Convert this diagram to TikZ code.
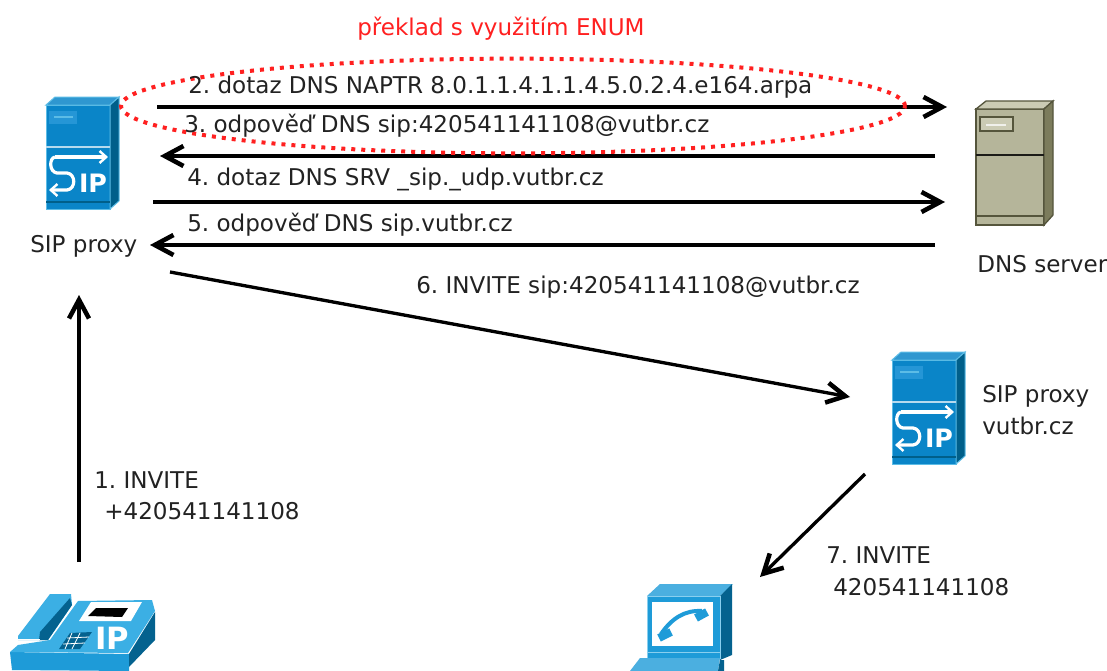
\documentclass[tikz,border=0pt]{standalone}
\usepackage{fontspec}
\setmainfont{DejaVu Sans}
\usetikzlibrary{arrows.meta,shapes.geometric}
\definecolor{sipfront}{HTML}{0A85C8}
\definecolor{sipside}{HTML}{005F8A}
\definecolor{sipedge}{HTML}{5CBCE6}
\definecolor{sippanel}{HTML}{2596D6}
\definecolor{phone}{HTML}{3BAFE4}
\definecolor{phonefront}{HTML}{1E9BD8}
\definecolor{phoneside}{HTML}{04628F}
\definecolor{srvfront}{HTML}{B5B59A}
\definecolor{srvtop}{HTML}{CBCBB4}
\definecolor{srvside}{HTML}{7C7C5C}
\definecolor{srvedge}{HTML}{55553C}
\definecolor{txt}{HTML}{222222}
\definecolor{enumred}{HTML}{FF2020}
\frenchspacing
\tikzset{
  flow/.style={line width=2.5pt,-{Straight Barb[length=14pt,width=15pt,line width=3.4pt]}},
  lbl/.style={anchor=base west,inner sep=0pt,font=\fontsize{17.3}{20}\selectfont,text=txt},
  sipicon/.pic={
    \fill[sipfront,draw=sipedge,line width=.75pt] (0,0) rectangle (64,104);
    \fill[sipfront!85!white,draw=sipedge,line width=.75pt] (0,0) -- (9,-8) -- (73,-8) -- (64,0) -- cycle;
    \fill[sipside,draw=sipedge,line width=.75pt] (64,0) -- (73,-8) -- (73,96) -- (64,104) -- cycle;
    \fill[sippanel] (3,6) rectangle (31,19);
    \draw[sipedge,line width=.9pt] (8,12) -- (27,12);
    \draw[white!70!sipfront,line width=.9pt] (0,42) -- (64,42);
    \draw[sipside,line width=1.3pt] (0,97) -- (64,97);
    \draw[white,line width=2.4pt,-{Straight Barb[length=5pt,width=9pt,line width=1.8pt]}]
      (9,52) .. controls (3,53) and (3,67) .. (11,68) -- (21,68)
      .. controls (30,69) and (30,84) .. (21,85) -- (3,85);
    \draw[white,line width=2.4pt,-{Straight Barb[length=5pt,width=9pt,line width=1.8pt]}]
      (9,52) -- (62,52);
    \node[inner sep=0pt,text=white,font=\bfseries\fontsize{19}{19}\selectfont] (ip) at (47,78) {IP};
  }
}
\begin{document}
\begin{tikzpicture}[x=0.75pt,y=-0.75pt]
\useasboundingbox (0,0) rectangle (1107,671);
\fill[white] (0,0) rectangle (1107,671);

% icons
\pic (proxyA) at (46,105) {sipicon};
\pic (proxyB) at (892,360) {sipicon};

% DNS server
\fill[srvfront,draw=srvedge,line width=1pt] (976,109) rectangle (1044,225);
\fill[srvtop,draw=srvedge,line width=1pt] (976,109) -- (986,101) -- (1053,101) -- (1044,109) -- cycle;
\fill[srvside,draw=srvedge,line width=1pt] (1044,109) -- (1053,101) -- (1053,215) -- (1044,225) -- cycle;
\fill[srvtop,draw=srvedge,line width=.8pt] (980,117) rectangle (1013,131);
\draw[white!80!srvfront,line width=1pt] (986,125) -- (1006,125);
\draw[black!85!srvfront,line width=1.4pt] (976,155) -- (1044,155);
\draw[srvedge,line width=1.2pt] (976,216) -- (1044,216);

% IP phone
\fill[phonefront] (10,652) -- (129,654) -- (129,671) -- (12,670) -- cycle;
\fill[phoneside] (129,654) -- (155,612) -- (155,640) -- (129,667) -- cycle;
\fill[phone] (78,601) -- (152,600) -- (155,611) -- (128,653) -- (10,652) -- (18,645) -- (50,640) -- cycle;
\fill[phone] (50,594) -- (71,594) -- (72,605) -- (48,640) -- (18,640) -- (18,636) -- cycle;
\fill[phoneside] (70,598) -- (72,605) -- (48,640) -- (39,640) -- (40,632) -- cycle;
\draw[white,line width=.6pt] (18,639) -- (40,639);
\fill[white] (79,621) -- (91,602) -- (142,602) -- (131,621) -- cycle;
\fill[black] (88,616) -- (96,608) -- (128,608) -- (122,617) -- cycle;
\fill[phoneside] (59,649) -- (70,633) -- (92,632) -- (80,649) -- cycle;
\draw[white,line width=.6pt] (63,644) -- (85,643) (67,638) -- (89,637) (72,633) -- (65,649) (80,633) -- (72,649);
\node[inner sep=0pt,text=white,font=\bfseries\fontsize{23}{23}\selectfont] (phoneip) at (112,638) {IP};

% softphone PC
\fill[phonefront!80!white] (647,596) -- (660,584) -- (733,584) -- (720,596) -- cycle;
\fill[phoneside] (720,596) -- (732,584) -- (732,655) -- (720,660) -- cycle;
\fill[phonefront,draw=phone!60!white,line width=.75pt] (647,596) rectangle (720,658);
\fill[white] (652,602) rectangle (713,646);
\draw[phone!60!white,line width=.75pt] (647,652) -- (720,652);
\draw[phonefront,line width=3pt] (661,634) .. controls (672,618) and (685,610) .. (702,611);
\draw[phonefront,line width=6pt] (659,638) -- (671,632) (696,618) -- (707,612);
\fill[phonefront!80!white] (630,671) -- (640,658) -- (720,658) -- (718,671) -- cycle;
\fill[phoneside] (718,671) -- (720,660) -- (724,660) -- (724,671) -- cycle;

% endpoints
\coordinate (n2a) at (157,107); \coordinate (n2b) at (947,107);
\coordinate (n3a) at (935,156); \coordinate (n3b) at (160,156);
\coordinate (n4a) at (153,202); \coordinate (n4b) at (945,202);
\coordinate (n5a) at (935,245); \coordinate (n5b) at (150,245);
\coordinate (n6a) at (170,272); \coordinate (n6b) at (850,397);
\coordinate (n7a) at (865,474); \coordinate (n7b) at (760,577);
\coordinate (n1a) at (79,562);  \coordinate (n1b) at (79,295);

\draw[flow] (n2a) -- (n2b);
\draw[flow] (n3a) -- (n3b);
\draw[flow] (n4a) -- (n4b);
\draw[flow] (n5a) -- (n5b);
\draw[flow] (n6a) -- (n6b);
\draw[flow] (n7a) -- (n7b);
\draw[flow] (n1a) -- (n1b);

% ENUM ellipse
\node[draw=enumred,dash pattern=on 3pt off 4.5pt,line width=3pt,ellipse,minimum width=588pt,minimum height=71pt,inner sep=0pt] (enum) at (513,106) {};

% labels
\node[lbl,text=enumred] (tEnum) at (357,35) {překlad s využitím ENUM};
\node[lbl] (t2) at (188,93) {2. dotaz DNS NAPTR 8.0.1.1.4.1.1.4.5.0.2.4.e164.arpa};
\node[lbl] (t3) at (184,132) {3. odpověď DNS sip:420541141108@vutbr.cz};
\node[lbl] (t4) at (187,185) {4. dotaz DNS SRV \_sip.\_udp.vutbr.cz};
\node[lbl] (t5) at (187,231) {5. odpověď DNS sip.vutbr.cz};
\node[lbl] (tProxyA) at (30,252) {SIP proxy};
\node[lbl] (tDns) at (977,272) {DNS server};
\node[lbl] (t6) at (416,293) {6. INVITE sip:420541141108@vutbr.cz};
\node[lbl] (tProxyB) at (982,402) {SIP proxy};
\node[lbl] (tVut) at (982,434) {vutbr.cz};
\node[lbl] (t1a) at (94,488) {1. INVITE};
\node[lbl] (t1b) at (104,519) {+420541141108};
\node[lbl] (t7a) at (826,563) {7. INVITE};
\node[lbl] (t7b) at (833,595) {420541141108};
\end{tikzpicture}
\end{document}
